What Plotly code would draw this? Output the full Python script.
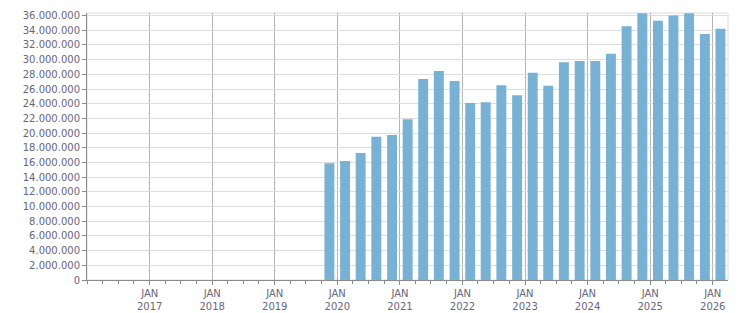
import plotly.graph_objects as go

# Quarter start dates (bars are centred in their quarter)
quarters = [
    "2019-10-01",
    "2020-01-01", "2020-04-01", "2020-07-01", "2020-10-01",
    "2021-01-01", "2021-04-01", "2021-07-01", "2021-10-01",
    "2022-01-01", "2022-04-01", "2022-07-01", "2022-10-01",
    "2023-01-01", "2023-04-01", "2023-07-01", "2023-10-01",
    "2024-01-01", "2024-04-01", "2024-07-01", "2024-10-01",
    "2025-01-01", "2025-04-01", "2025-07-01", "2025-10-01",
    "2026-01-01",
]
values = [
    15_900_000,
    16_200_000, 17_300_000, 19_500_000, 19_750_000,
    21_900_000, 27_350_000, 28_450_000, 27_100_000,
    24_100_000, 24_200_000, 26_500_000, 25_150_000,
    28_200_000, 26_450_000, 29_650_000, 29_800_000,
    29_800_000, 30_800_000, 34_550_000, 36_300_000,
    35_300_000, 36_000_000, 36_300_000, 33_500_000,
    34_200_000,
]

year_ticks = [f"{y}-01-01" for y in range(2017, 2027)]
year_labels = [f"JAN<br>{y}" for y in range(2017, 2027)]
y_ticks = list(range(0, 36_000_001, 2_000_000))

BAR = "#78b1d3"
TXT = "#66667a"
AX = "#8a8a8a"
FONT = "DejaVu Sans, Verdana, sans-serif"

fig = go.Figure()
fig.add_trace(go.Bar(
    x=quarters,
    y=values,
    xperiod="M3",
    xperiodalignment="middle",
    width=58 * 86400000,
    marker=dict(color=BAR, line=dict(width=0)),
    hoverinfo="x+y",
))

fig.update_layout(
    width=751,
    height=313,
    margin=dict(l=87, r=23, t=13, b=33, autoexpand=False),
    paper_bgcolor="white",
    plot_bgcolor="white",
    separators=",.",
    showlegend=False,
    font=dict(family=FONT, size=10, color=TXT),
    shapes=[dict(
        type="rect", xref="paper", yref="paper", x0=0, x1=1, y0=0, y1=1,
        line=dict(color="#dcdcdc", width=1), fillcolor="rgba(0,0,0,0)",
        layer="below",
    )],
)

fig.update_xaxes(
    type="date",
    automargin=False,
    range=["2016-01-01", "2026-03-31"],
    tickmode="array",
    tickvals=year_ticks,
    ticktext=year_labels,
    ticks="outside",
    ticklen=4,
    tickcolor=AX,
    showgrid=True,
    gridcolor="#b4b4b4",
    gridwidth=1,
    showline=True,
    linecolor=AX,
    linewidth=1,
    zeroline=False,
    tickfont=dict(family=FONT, size=10, color=TXT),
    minor=dict(dtick="M3", tick0="2016-01-01", ticks="outside", ticklen=3,
               tickcolor=AX, showgrid=False),
)

fig.update_yaxes(
    automargin=False,
    range=[0, 36_350_000],
    tickmode="array",
    tickvals=y_ticks,
    tickformat=",d",
    ticks="outside",
    ticklen=4,
    tickcolor=AX,
    showgrid=True,
    gridcolor="#dddddd",
    gridwidth=1,
    showline=True,
    linecolor=AX,
    linewidth=1,
    zeroline=False,
    tickfont=dict(family=FONT, size=10, color=TXT),
)

fig.write_html("out.html")
